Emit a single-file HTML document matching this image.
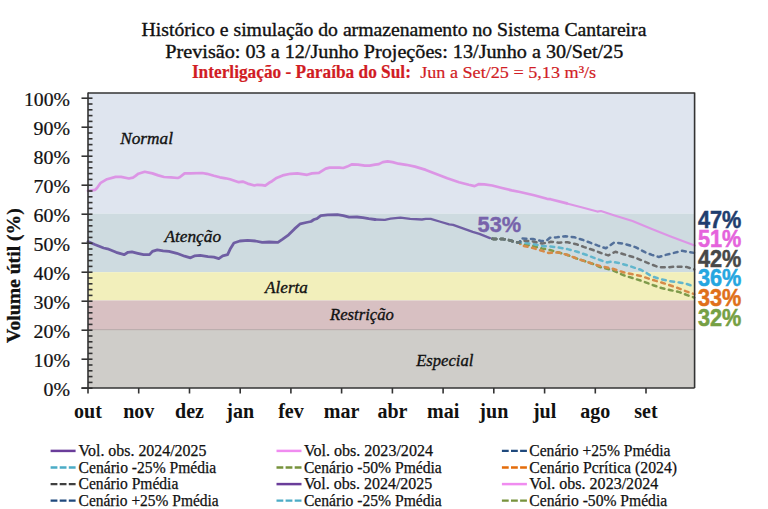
<!DOCTYPE html><html><head><meta charset="utf-8"><style>html,body{margin:0;padding:0;background:#fff;width:768px;height:509px;overflow:hidden}svg{display:block}</style></head><body>
<svg width="768" height="509" viewBox="0 0 768 509">
<rect x="0" y="0" width="768" height="509" fill="#ffffff"/>
<g font-family="Liberation Serif, serif" fill="#111" stroke="#111" stroke-width="0.35">
<text x="141.6" y="36.2" font-size="18.5" textLength="504.8" lengthAdjust="spacingAndGlyphs">Histórico e simulação do armazenamento no Sistema Cantareira</text>
<text x="165.3" y="57.6" font-size="18" textLength="458" lengthAdjust="spacingAndGlyphs">Previsão: 03 a 12/Junho Projeções: 13/Junho a 30/Set/25</text>
</g>
<g font-family="Liberation Serif, serif" fill="#d11c24" stroke="#d11c24" stroke-width="0.2">
<text x="191.9" y="77.6" font-size="18.2" font-weight="bold" textLength="219" lengthAdjust="spacingAndGlyphs">Interligação - Paraíba do Sul:</text>
<text x="420.2" y="77.5" font-size="17.2" textLength="176" lengthAdjust="spacingAndGlyphs">Jun a Set/25 = 5,13 m³/s</text>
</g>
<rect x="88" y="93" width="606.6" height="120.6" fill="#dfe5ef"/>
<rect x="88" y="213.6" width="606.6" height="58.6" fill="#cedbe0"/>
<rect x="88" y="272.2" width="606.6" height="28.2" fill="#f2efbb"/>
<rect x="88" y="300.4" width="606.6" height="29.0" fill="#d8c0c2"/>
<rect x="88" y="329.4" width="606.6" height="58.6" fill="#cfcdc9"/>
<rect x="88" y="329" width="606.6" height="1.2" fill="#bcaeae"/>
<g font-family="Liberation Serif, serif" font-style="italic" fill="#111" font-size="17.5" stroke="#111" stroke-width="0.35">
<text x="120.2" y="144.2" textLength="52.8" lengthAdjust="spacingAndGlyphs">Normal</text>
<text x="164.4" y="241.9" textLength="56.7" lengthAdjust="spacingAndGlyphs">Atenção</text>
<text x="265.1" y="293.3" textLength="42.8" lengthAdjust="spacingAndGlyphs">Alerta</text>
<text x="330" y="319.7" textLength="63.8" lengthAdjust="spacingAndGlyphs">Restrição</text>
<text x="416.2" y="365.6" textLength="57.1" lengthAdjust="spacingAndGlyphs">Especial</text>
</g>
<polyline points="88.0,190.8 95.2,189.8 97.0,188.0 100.7,182.8 107.0,179.2 115.6,176.9 121.1,176.9 128.9,178.5 133.0,177.6 135.2,176.1 138.4,173.7 144.7,171.8 152.4,173.4 158.2,175.4 164.1,177.0 170.9,177.3 177.8,178.0 179.7,177.3 184.6,173.4 190.5,173.4 202.2,173.0 207.0,173.8 213.9,175.8 219.8,177.3 225.6,178.3 230.0,179.3 238.8,182.2 242.7,181.6 247.6,183.6 254.4,185.5 257.3,184.8 262.2,185.2 265.2,185.7 269.1,182.8 272.0,181.2 275.9,178.3 282.7,175.4 290.5,173.8 297.4,173.4 307.1,174.8 312.0,173.4 318.9,172.9 325.7,168.6 329.6,167.6 339.4,167.6 343.3,168.0 347.2,166.6 352.1,164.3 357.9,164.6 364.8,165.6 369.6,165.6 375.0,164.6 378.9,164.1 382.8,162.1 387.7,161.3 392.6,162.1 398.4,163.7 406.2,164.8 415.0,166.6 425.8,169.9 437.5,174.4 447.3,178.3 459.0,182.2 468.8,184.8 474.6,186.1 478.5,184.2 484.4,184.4 492.2,185.5 502.0,188.0 511.7,190.4 520.0,192.0 534.1,195.2 547.0,198.8 550.5,199.2 566.9,203.4" fill="none" stroke="#dc95e5" stroke-width="2.7" stroke-linejoin="round" stroke-linecap="round"/>
<polyline points="566.9,203.4 583.3,207.7 597.3,211.6 600.9,211.0 613.8,215.2 632.5,221.0 651.2,228.7 670.0,236.2 694.6,245.6" fill="none" stroke="#dc95e5" stroke-width="2.1" stroke-linejoin="round" stroke-linecap="round"/>
<polyline points="88.0,241.6 94.8,244.5 103.6,248.0 107.5,248.8 116.2,252.3 124.1,254.7 128.0,252.3 131.9,251.8 137.7,253.3 143.6,254.7 149.5,254.7 152.4,251.4 157.3,249.8 163.1,250.8 169.0,251.4 176.8,253.3 184.6,256.2 190.5,257.8 194.4,255.9 200.2,255.3 208.0,256.6 213.9,257.2 218.8,258.6 222.7,255.9 227.6,254.7 230.5,248.4 233.9,243.0 239.8,241.0 247.6,240.4 255.4,241.0 262.2,242.4 269.1,242.0 277.9,242.4 282.7,239.1 288.6,234.8 294.5,228.9 300.3,223.8 306.2,222.5 311.0,221.5 314.0,219.5 316.9,218.6 320.8,215.6 327.7,214.8 337.4,214.6 343.3,215.6 349.1,217.2 357.0,217.0 362.8,217.6 368.7,218.6 375.0,219.5" fill="none" stroke="#6f5ea3" stroke-width="2.8" stroke-linejoin="round" stroke-linecap="round"/>
<polyline points="375.0,219.5 384.8,219.9 390.6,218.6 400.4,217.6 410.2,218.9 421.9,219.5 425.8,218.9 430.7,218.9 439.5,221.5 449.2,224.4 453.1,224.8 462.9,228.3 472.7,231.8 479.4,233.9 490.0,238.1" fill="none" stroke="#6f5ea3" stroke-width="2.3" stroke-linejoin="round" stroke-linecap="round"/>
<polyline points="490.0,238.1 493.7,239.1 502.8,239.1 507.3,239.6 511.9,241.0 516.5,242.3 519.5,242.6 521.0,244.0 533.0,246.0 542.0,248.5 549.9,250.0 558.8,252.5 567.6,255.0 576.4,258.4 585.3,261.3 594.1,264.3 600.0,267.0 612.0,270.0 624.0,275.4 641.0,280.7 653.2,285.2 661.5,288.0 669.8,290.0 679.4,292.1 686.3,294.8 694.2,297.6" stroke="#7e9a4a" stroke-dasharray="3.8 4.6" stroke-dashoffset="-2.5" stroke-width="2.5" stroke-linecap="round" fill="none" stroke-linejoin="round"/>
<polyline points="490.0,238.1 493.7,239.1 502.8,239.1 507.3,239.6 511.9,241.0 516.5,242.3 519.5,242.6 521.0,245.3 533.0,248.0 542.0,250.8 548.9,253.0 558.8,252.5 567.6,255.0 576.4,258.4 585.3,261.3 594.1,264.3 600.0,266.0 612.0,268.5 624.0,272.5 641.0,276.0 651.9,279.7 661.5,282.5 669.8,285.2 679.4,288.6 686.3,291.4 694.2,294.1" stroke="#d68a48" stroke-dasharray="3.8 4.6" stroke-dashoffset="-2.5" stroke-width="2.5" stroke-linecap="round" fill="none" stroke-linejoin="round"/>
<polyline points="490.0,238.1 493.7,239.1 502.8,239.1 507.3,239.6 511.9,241.0 516.5,242.3 519.5,242.6 521.0,242.5 533.0,244.0 542.0,246.0 549.9,246.4 558.8,247.6 567.6,249.1 576.4,251.5 585.3,254.5 594.1,257.9 600.0,260.0 607.0,262.4 611.8,261.6 618.9,263.0 629.5,266.0 641.3,270.0 651.9,276.3 660.1,279.0 669.8,281.1 679.4,282.5 686.3,283.8 694.2,286.6" stroke="#62b6cc" stroke-dasharray="3.8 4.6" stroke-dashoffset="-2.5" stroke-width="2.5" stroke-linecap="round" fill="none" stroke-linejoin="round"/>
<polyline points="490.0,238.1 493.7,239.1 502.8,239.1 507.3,239.6 511.9,241.0 516.5,242.3 519.5,242.6 521.0,240.5 533.0,241.5 542.0,243.5 548.0,242.7 550.9,241.7 558.8,242.7 567.6,242.2 576.4,244.2 584.3,247.1 593.1,250.0 601.0,253.0 608.2,255.4 615.3,251.8 623.6,254.2 635.4,257.7 645.0,261.8 651.9,264.6 658.8,267.3 667.0,267.3 676.6,266.6 686.3,266.9 694.2,269.4" stroke="#6e6e6e" stroke-dasharray="3.8 4.6" stroke-dashoffset="-2.5" stroke-width="2.5" stroke-linecap="round" fill="none" stroke-linejoin="round"/>
<polyline points="490.0,238.1 493.7,239.1 502.8,239.1 507.3,239.6 511.9,241.0 516.5,242.3 519.5,242.6 521.0,238.4 533.0,239.0 542.0,241.1 547.0,240.2 549.9,237.8 556.8,237.3 565.6,236.3 574.5,237.3 582.3,239.7 590.2,242.7 598.0,245.6 605.9,248.3 614.2,242.4 623.6,243.6 635.4,247.1 645.0,252.2 651.9,254.9 658.8,257.0 665.6,254.9 673.9,252.9 682.1,250.8 694.2,252.9" stroke="#53709a" stroke-dasharray="3.8 4.6" stroke-dashoffset="-2.5" stroke-width="2.5" stroke-linecap="round" fill="none" stroke-linejoin="round"/>
<polyline points="490.0,238.1 493.7,239.1 502.8,239.1 507.3,239.6 511.9,241.0 516.5,242.3 519.5,242.6" stroke="#6b7670" stroke-dasharray="3.8 4.6" stroke-dashoffset="-2.5" stroke-width="2.5" stroke-linecap="round" fill="none" stroke-linejoin="round"/>
<text x="477.6" y="232.4" font-family="Liberation Sans, sans-serif" font-weight="bold" font-size="22.5" fill="#7763ab" stroke="#7763ab" stroke-width="0.4" textLength="43.6" lengthAdjust="spacingAndGlyphs">53%</text>
<g stroke="#333" stroke-width="1.6" fill="none">
<line x1="88" y1="93" x2="694.6" y2="93"/>
<line x1="694.6" y1="92.4" x2="694.6" y2="388"/>
<line x1="88" y1="92.4" x2="88" y2="393.5"/>
<line x1="81.5" y1="388" x2="694.6" y2="388"/>
<line x1="81.5" y1="388.2" x2="92.5" y2="388.2"/>
<line x1="88" y1="382.4" x2="92.5" y2="382.4"/>
<line x1="88" y1="376.6" x2="92.5" y2="376.6"/>
<line x1="88" y1="370.8" x2="92.5" y2="370.8"/>
<line x1="88" y1="365.0" x2="92.5" y2="365.0"/>
<line x1="81.5" y1="359.2" x2="92.5" y2="359.2"/>
<line x1="88" y1="353.4" x2="92.5" y2="353.4"/>
<line x1="88" y1="347.6" x2="92.5" y2="347.6"/>
<line x1="88" y1="341.8" x2="92.5" y2="341.8"/>
<line x1="88" y1="336.0" x2="92.5" y2="336.0"/>
<line x1="81.5" y1="330.2" x2="92.5" y2="330.2"/>
<line x1="88" y1="324.4" x2="92.5" y2="324.4"/>
<line x1="88" y1="318.6" x2="92.5" y2="318.6"/>
<line x1="88" y1="312.8" x2="92.5" y2="312.8"/>
<line x1="88" y1="307.0" x2="92.5" y2="307.0"/>
<line x1="81.5" y1="301.2" x2="92.5" y2="301.2"/>
<line x1="88" y1="295.4" x2="92.5" y2="295.4"/>
<line x1="88" y1="289.6" x2="92.5" y2="289.6"/>
<line x1="88" y1="283.8" x2="92.5" y2="283.8"/>
<line x1="88" y1="278.0" x2="92.5" y2="278.0"/>
<line x1="81.5" y1="272.2" x2="92.5" y2="272.2"/>
<line x1="88" y1="266.4" x2="92.5" y2="266.4"/>
<line x1="88" y1="260.6" x2="92.5" y2="260.6"/>
<line x1="88" y1="254.8" x2="92.5" y2="254.8"/>
<line x1="88" y1="249.0" x2="92.5" y2="249.0"/>
<line x1="81.5" y1="243.2" x2="92.5" y2="243.2"/>
<line x1="88" y1="237.4" x2="92.5" y2="237.4"/>
<line x1="88" y1="231.6" x2="92.5" y2="231.6"/>
<line x1="88" y1="225.8" x2="92.5" y2="225.8"/>
<line x1="88" y1="220.0" x2="92.5" y2="220.0"/>
<line x1="81.5" y1="214.2" x2="92.5" y2="214.2"/>
<line x1="88" y1="208.4" x2="92.5" y2="208.4"/>
<line x1="88" y1="202.6" x2="92.5" y2="202.6"/>
<line x1="88" y1="196.8" x2="92.5" y2="196.8"/>
<line x1="88" y1="191.0" x2="92.5" y2="191.0"/>
<line x1="81.5" y1="185.2" x2="92.5" y2="185.2"/>
<line x1="88" y1="179.4" x2="92.5" y2="179.4"/>
<line x1="88" y1="173.6" x2="92.5" y2="173.6"/>
<line x1="88" y1="167.8" x2="92.5" y2="167.8"/>
<line x1="88" y1="162.0" x2="92.5" y2="162.0"/>
<line x1="81.5" y1="156.2" x2="92.5" y2="156.2"/>
<line x1="88" y1="150.4" x2="92.5" y2="150.4"/>
<line x1="88" y1="144.6" x2="92.5" y2="144.6"/>
<line x1="88" y1="138.8" x2="92.5" y2="138.8"/>
<line x1="88" y1="133.0" x2="92.5" y2="133.0"/>
<line x1="81.5" y1="127.2" x2="92.5" y2="127.2"/>
<line x1="88" y1="121.4" x2="92.5" y2="121.4"/>
<line x1="88" y1="115.6" x2="92.5" y2="115.6"/>
<line x1="88" y1="109.8" x2="92.5" y2="109.8"/>
<line x1="88" y1="104.0" x2="92.5" y2="104.0"/>
<line x1="81.5" y1="98.2" x2="92.5" y2="98.2"/>
<line x1="138.7" y1="388" x2="138.7" y2="393.5"/>
<line x1="189.5" y1="388" x2="189.5" y2="393.5"/>
<line x1="240.2" y1="388" x2="240.2" y2="393.5"/>
<line x1="290.9" y1="388" x2="290.9" y2="393.5"/>
<line x1="341.6" y1="388" x2="341.6" y2="393.5"/>
<line x1="392.4" y1="388" x2="392.4" y2="393.5"/>
<line x1="443.1" y1="388" x2="443.1" y2="393.5"/>
<line x1="493.8" y1="388" x2="493.8" y2="393.5"/>
<line x1="544.6" y1="388" x2="544.6" y2="393.5"/>
<line x1="595.3" y1="388" x2="595.3" y2="393.5"/>
<line x1="646.0" y1="388" x2="646.0" y2="393.5"/>
</g>
<g font-family="Liberation Serif, serif" font-size="18" fill="#111" text-anchor="end" stroke="#111" stroke-width="0.2">
<text x="70" y="395.9" textLength="26.5" lengthAdjust="spacingAndGlyphs">0%</text>
<text x="70" y="366.9" textLength="36.5" lengthAdjust="spacingAndGlyphs">10%</text>
<text x="70" y="337.9" textLength="36.5" lengthAdjust="spacingAndGlyphs">20%</text>
<text x="70" y="308.9" textLength="36.5" lengthAdjust="spacingAndGlyphs">30%</text>
<text x="70" y="279.9" textLength="36.5" lengthAdjust="spacingAndGlyphs">40%</text>
<text x="70" y="250.9" textLength="36.5" lengthAdjust="spacingAndGlyphs">50%</text>
<text x="70" y="221.9" textLength="36.5" lengthAdjust="spacingAndGlyphs">60%</text>
<text x="70" y="192.9" textLength="36.5" lengthAdjust="spacingAndGlyphs">70%</text>
<text x="70" y="163.9" textLength="36.5" lengthAdjust="spacingAndGlyphs">80%</text>
<text x="70" y="134.9" textLength="36.5" lengthAdjust="spacingAndGlyphs">90%</text>
<text x="70" y="105.9" textLength="46" lengthAdjust="spacingAndGlyphs">100%</text>
</g>
<g font-family="Liberation Serif, serif" font-size="20" font-weight="bold" fill="#111" text-anchor="middle">
<text x="88.0" y="417.5">out</text>
<text x="138.7" y="417.5">nov</text>
<text x="189.5" y="417.5">dez</text>
<text x="240.2" y="417.5">jan</text>
<text x="290.9" y="417.5">fev</text>
<text x="341.6" y="417.5">mar</text>
<text x="392.4" y="417.5">abr</text>
<text x="443.1" y="417.5">mai</text>
<text x="493.8" y="417.5">jun</text>
<text x="544.6" y="417.5">jul</text>
<text x="595.3" y="417.5">ago</text>
<text x="646.0" y="417.5">set</text>
</g>
<text transform="translate(20.2,275.6) rotate(-90)" font-family="Liberation Serif, serif" font-size="18.2" font-weight="bold" fill="#111" stroke="#111" stroke-width="0.3" text-anchor="middle" textLength="134.7" lengthAdjust="spacingAndGlyphs">Volume útil (%)</text>
<g font-family="Liberation Sans, sans-serif" font-size="23" font-weight="bold">
<text x="697.9" y="227.5" fill="#1f3d6e" stroke="#1f3d6e" stroke-width="0.5" textLength="43.4" lengthAdjust="spacingAndGlyphs">47%</text>
<text x="697.9" y="247.3" fill="#e563dc" stroke="#e563dc" stroke-width="0.5" textLength="43.4" lengthAdjust="spacingAndGlyphs">51%</text>
<text x="697.9" y="266.5" fill="#474747" stroke="#474747" stroke-width="0.5" textLength="43.4" lengthAdjust="spacingAndGlyphs">42%</text>
<text x="697.9" y="285.7" fill="#25a6e0" stroke="#25a6e0" stroke-width="0.5" textLength="43.4" lengthAdjust="spacingAndGlyphs">36%</text>
<text x="697.9" y="305.8" fill="#e0701a" stroke="#e0701a" stroke-width="0.5" textLength="43.4" lengthAdjust="spacingAndGlyphs">33%</text>
<text x="697.9" y="326.4" fill="#76a044" stroke="#76a044" stroke-width="0.5" textLength="43.4" lengthAdjust="spacingAndGlyphs">32%</text>
</g>
<g font-family="Liberation Serif, serif" font-size="16" fill="#111" stroke="#111" stroke-width="0.25">
<line x1="50.6" y1="450.9" x2="75.6" y2="450.9" stroke="#6a3d9a" stroke-width="2.5"/>
<text x="78.6" y="456.0" textLength="127.8" lengthAdjust="spacingAndGlyphs">Vol. obs. 2024/2025</text>
<line x1="276.5" y1="450.9" x2="301.5" y2="450.9" stroke="#f08cf0" stroke-width="2.5"/>
<text x="303.9" y="456.0" textLength="129.1" lengthAdjust="spacingAndGlyphs">Vol. obs. 2023/2024</text>
<line x1="501.9" y1="450.9" x2="526.9" y2="450.9" stroke="#1f497d" stroke-width="2.3" stroke-dasharray="6.8 2.3"/>
<text x="529.3" y="456.0" textLength="141.2" lengthAdjust="spacingAndGlyphs">Cenário +25% Pmédia</text>
<line x1="50.6" y1="467.5" x2="75.6" y2="467.5" stroke="#4bacc6" stroke-width="2.3" stroke-dasharray="6.8 2.3"/>
<text x="78.6" y="472.6" textLength="137.7" lengthAdjust="spacingAndGlyphs">Cenário -25% Pmédia</text>
<line x1="276.5" y1="467.5" x2="301.5" y2="467.5" stroke="#77933c" stroke-width="2.3" stroke-dasharray="6.8 2.3"/>
<text x="303.9" y="472.6" textLength="137.9" lengthAdjust="spacingAndGlyphs">Cenário -50% Pmédia</text>
<line x1="501.9" y1="467.5" x2="526.9" y2="467.5" stroke="#e46c0a" stroke-width="2.3" stroke-dasharray="6.8 2.3"/>
<text x="529.3" y="472.6" textLength="147.7" lengthAdjust="spacingAndGlyphs">Cenário Pcrítica (2024)</text>
<line x1="50.6" y1="484.1" x2="75.6" y2="484.1" stroke="#404040" stroke-width="2.3" stroke-dasharray="6.8 2.3"/>
<text x="78.6" y="489.2" textLength="99.69999999999999" lengthAdjust="spacingAndGlyphs">Cenário Pmédia</text>
<line x1="276.5" y1="484.1" x2="301.5" y2="484.1" stroke="#6a3d9a" stroke-width="2.5"/>
<text x="303.9" y="489.2" textLength="128.4" lengthAdjust="spacingAndGlyphs">Vol. obs. 2024/2025</text>
<line x1="501.9" y1="484.1" x2="526.9" y2="484.1" stroke="#f08cf0" stroke-width="2.5"/>
<text x="529.3" y="489.2" textLength="128.9" lengthAdjust="spacingAndGlyphs">Vol. obs. 2023/2024</text>
<line x1="50.6" y1="500.6" x2="75.6" y2="500.6" stroke="#1f497d" stroke-width="2.3" stroke-dasharray="6.8 2.3"/>
<text x="78.6" y="505.7" textLength="140.1" lengthAdjust="spacingAndGlyphs">Cenário +25% Pmédia</text>
<line x1="276.5" y1="500.6" x2="301.5" y2="500.6" stroke="#4bacc6" stroke-width="2.3" stroke-dasharray="6.8 2.3"/>
<text x="303.9" y="505.7" textLength="137.9" lengthAdjust="spacingAndGlyphs">Cenário -25% Pmédia</text>
<line x1="501.9" y1="500.6" x2="526.9" y2="500.6" stroke="#77933c" stroke-width="2.3" stroke-dasharray="6.8 2.3"/>
<text x="529.3" y="505.7" textLength="137.9" lengthAdjust="spacingAndGlyphs">Cenário -50% Pmédia</text>
</g>
</svg></body></html>
